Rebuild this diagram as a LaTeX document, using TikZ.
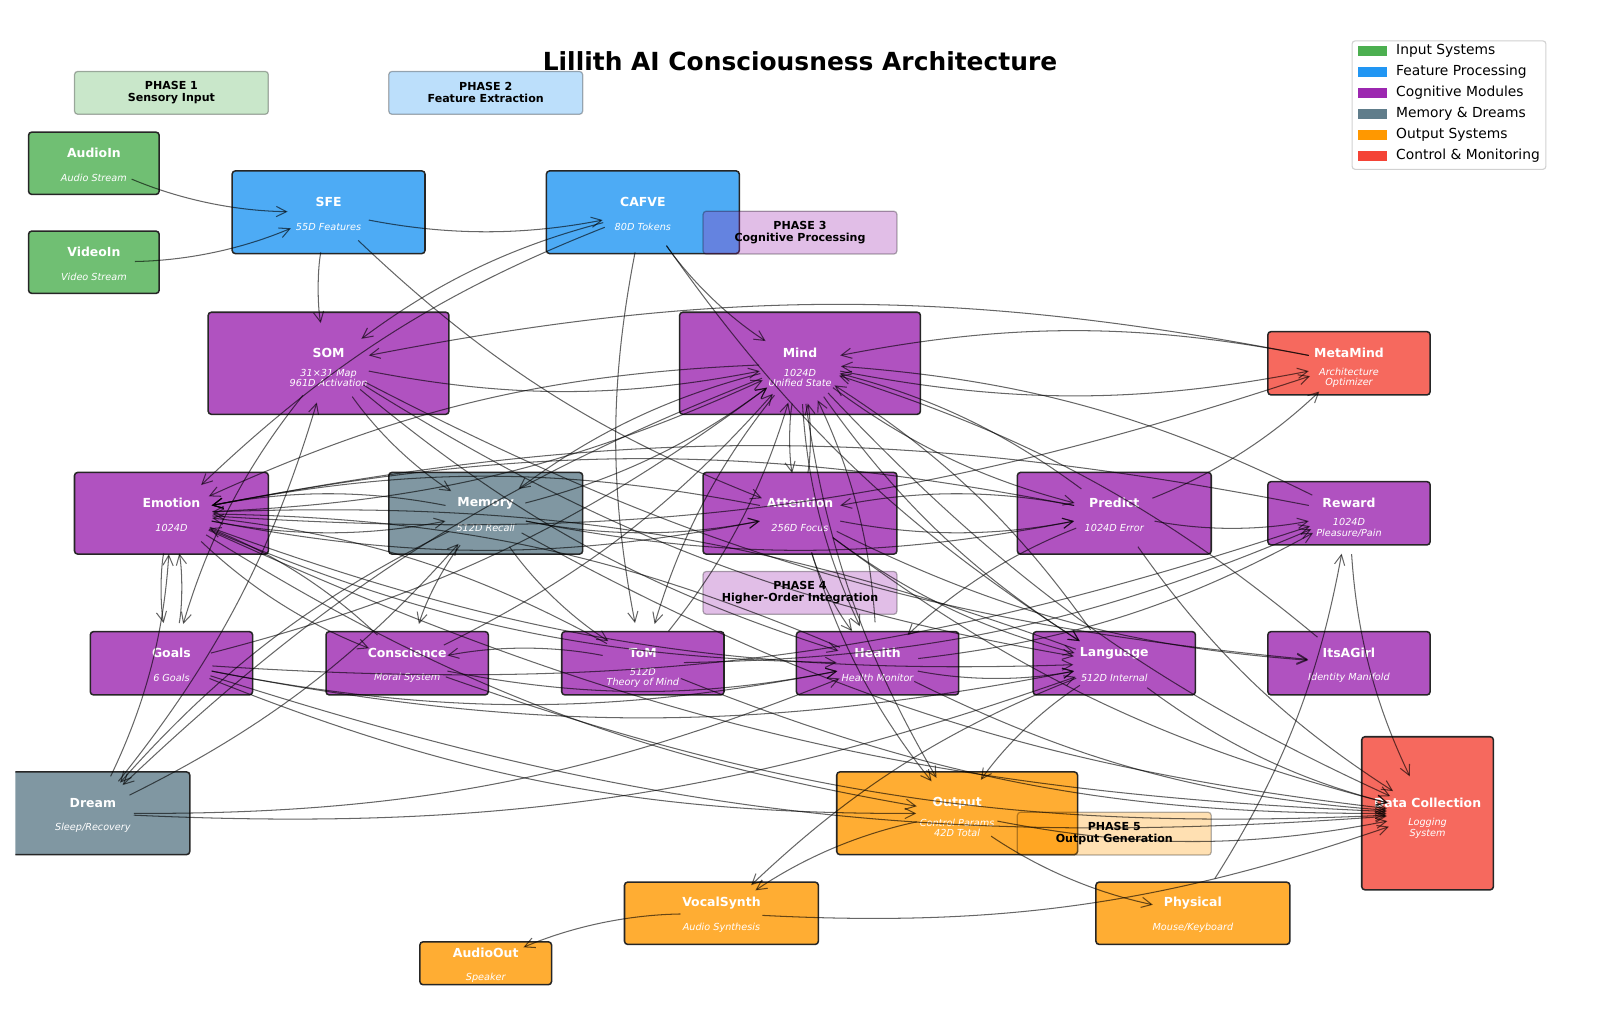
\documentclass[tikz,border=0pt]{standalone}
\usepackage{fontspec}
\setmainfont{DejaVu Sans}
\usepackage{xcolor}
\usetikzlibrary{positioning,arrows.meta}

\definecolor{cIn}{HTML}{4CAF50}
\definecolor{cFeat}{HTML}{2196F3}
\definecolor{cCog}{HTML}{9C27B0}
\definecolor{cMem}{HTML}{607D8B}
\definecolor{cOut}{HTML}{FF9800}
\definecolor{cCtl}{HTML}{F44336}

\def\un{0.2592mm}

\tikzset{
  box/.style={draw=black!85, line width=1.1pt, rounded corners=0.8mm, inner sep=0pt},
  ttl/.style={text=white, font=\fontsize{9}{10}\selectfont\bfseries, inner sep=0pt},
  sub/.style={text=white, font=\fontsize{7}{7.6}\selectfont\itshape, align=center, inner sep=0pt},
  phase/.style={draw=black, fill opacity=0.3, draw opacity=0.3, text opacity=1,
    rounded corners=0.8mm, line width=0.9pt, minimum width=190*\un, minimum height=42*\un,
    align=center, font=\fontsize{8}{8.6}\selectfont\bfseries, inner sep=0pt},
  edge/.style={-{Straight Barb[length=2.6mm,width=2.6mm]}, line width=0.75pt,
    draw=black, draw opacity=0.6, shorten <=10.4mm, shorten >=10.4mm},
}

% name, x, y, width, height, colour, title, subtitle
\newcommand{\modbox}[8]{%
  \node[box, fill=#6!80, minimum width=#4*\un, minimum height=#5*\un] (#1) at (#2,-#3) {};
  \node[ttl] (#1-t) at (#2,-#3+10) {#7};
  \node[sub] (#1-s) at (#2,-#3-14.5) {#8};
}

\begin{document}
\begin{tikzpicture}[x=0.2592mm, y=0.2592mm]
\useasboundingbox (0,0) rectangle (1568,-1006);
\clip (15,0) rectangle (1568,-1006);

\node[font=\fontsize{18}{21}\selectfont\bfseries] (title) at (784,-60) {Lillith AI Consciousness Architecture};

% modules
\modbox{AudioIn}{92}{160}{128}{61}{cIn}{AudioIn}{Audio Stream}
\modbox{VideoIn}{92}{257}{128}{61}{cIn}{VideoIn}{Video Stream}
\modbox{SFE}{322}{208}{189}{81}{cFeat}{SFE}{55D Features}
\modbox{CAFVE}{630}{208}{189}{81}{cFeat}{CAFVE}{80D Tokens}
\modbox{SOM}{322}{356}{236}{100}{cCog}{SOM}{31×31 Map\\961D Activation}
\modbox{Mind}{784}{356}{236}{100}{cCog}{Mind}{1024D\\Unified State}
\modbox{MetaMind}{1322}{356}{159}{62}{cCtl}{MetaMind}{Architecture\\Optimizer}
\modbox{Emotion}{168}{503}{190}{80}{cCog}{Emotion}{1024D}
\modbox{Memory}{476}{503}{190}{80}{cMem}{Memory}{512D Recall}
\modbox{Attention}{784}{503}{190}{80}{cCog}{Attention}{256D Focus}
\modbox{Predict}{1092}{503}{190}{80}{cCog}{Predict}{1024D Error}
\modbox{Reward}{1322}{503}{159}{62}{cCog}{Reward}{1024D\\Pleasure/Pain}
\modbox{Goals}{168}{650}{159}{62}{cCog}{Goals}{6 Goals}
\modbox{Conscience}{399}{650}{159}{62}{cCog}{Conscience}{Moral System}
\modbox{ToM}{630}{650}{159}{62}{cCog}{ToM}{512D\\Theory of Mind}
\modbox{Health}{860}{650}{159}{62}{cCog}{Health}{Health Monitor}
\modbox{Language}{1092}{650}{159}{62}{cCog}{Language}{512D Internal}
\modbox{ItsAGirl}{1322}{650}{159}{62}{cCog}{ItsAGirl}{Identity Manifold}
\modbox{Dream}{91}{797}{190}{81}{cMem}{Dream}{Sleep/Recovery}
\modbox{Output}{938}{797}{236}{81}{cOut}{Output}{Control Params\\42D Total}
\modbox{DataCol}{1399}{797}{129}{150}{cCtl}{Data Collection}{Logging\\System}
\modbox{VocalSynth}{707}{895}{190}{61}{cOut}{VocalSynth}{Audio Synthesis}
\modbox{Physical}{1169}{895}{190}{61}{cOut}{Physical}{Mouse/Keyboard}
\modbox{AudioOut}{476}{944}{129}{42}{cOut}{AudioOut}{Speaker}

% phase labels
\node[phase, fill=cIn] (ph1) at (168,-91) {PHASE 1\\Sensory Input};
\node[phase, fill=cFeat] (ph2) at (476,-91) {PHASE 2\\Feature Extraction};
\node[phase, fill=cCog] (ph3) at (784,-228) {PHASE 3\\Cognitive Processing};
\node[phase, fill=cCog] (ph4) at (784,-581) {PHASE 4\\Higher-Order Integration};
\node[phase, fill=cOut] (ph5) at (1092,-817) {PHASE 5\\Output Generation};

% connections
\foreach \a/\b in {AudioIn/SFE, VideoIn/SFE, SFE/CAFVE, SFE/SOM, SFE/Attention,
  CAFVE/SOM, CAFVE/Emotion, CAFVE/Mind, CAFVE/ToM, CAFVE/Language,
  SOM/Mind, SOM/Memory, SOM/Goals, SOM/Health, SOM/Language, SOM/ItsAGirl,
  MetaMind/SOM, MetaMind/Mind, Mind/MetaMind, Emotion/MetaMind,
  Dream/SOM, Dream/Emotion, Dream/Memory, Dream/Health, Dream/Language,
  Emotion/Goals, Goals/Emotion, Goals/Mind, Goals/Reward, Goals/Health, Goals/Language, Goals/Output, Goals/DataCol,
  Emotion/Mind, Mind/Emotion, Memory/Mind, Mind/Memory, Mind/Attention, Attention/Mind,
  Mind/Predict, Predict/Mind, Mind/Language, Language/Mind, Health/Mind, ToM/Mind, Mind/ToM,
  Conscience/Mind, Reward/Mind, ItsAGirl/Mind, Mind/Output, Mind/Dream, Mind/DataCol, Mind/Health,
  Memory/Conscience, Memory/ToM, Memory/Dream, Memory/Emotion, Memory/Attention, Memory/Predict, Memory/DataCol,
  Emotion/Memory, Emotion/Attention, Emotion/Conscience, Emotion/Health, Emotion/Language,
  Emotion/Output, Emotion/DataCol,
  Attention/Emotion, Attention/Predict, Predict/Attention, Attention/Health, Attention/Output,
  Attention/Language, Attention/ItsAGirl, Attention/DataCol,
  Predict/Emotion, Predict/Reward, Predict/MetaMind, Predict/Health, Predict/DataCol,
  Reward/Emotion, Reward/DataCol,
  Conscience/Emotion, Conscience/Health, Conscience/DataCol,
  ToM/Conscience, ToM/Emotion, ToM/Reward, ToM/DataCol,
  Health/Emotion, Health/Reward, Health/Language, Health/DataCol,
  Language/Emotion, Language/Output, Language/VocalSynth, Language/DataCol,
  Output/VocalSynth, Output/Physical, Output/DataCol,
  VocalSynth/AudioOut, VocalSynth/DataCol, Physical/Reward}{
  \draw[edge] (\a.center) to[bend right=11] (\b.center);
}

% legend
\node[draw=black!18, line width=0.8pt, fill=white, rounded corners=0.8mm,
  minimum width=190*\un, minimum height=126*\un, inner sep=0pt] (legend) at (1420,-103) {};
\foreach \i/\c/\t in {0/cIn/Input Systems, 1/cFeat/Feature Processing, 2/cCog/Cognitive Modules,
  3/cMem/Memory \& Dreams, 4/cOut/Output Systems, 5/cCtl/Control \& Monitoring}{
  \fill[\c] (1331,-45-\i*20.6) rectangle (1359,-55-\i*20.6);
  \node[anchor=west, font=\fontsize{10}{12}\selectfont, inner sep=0pt] (leg\i) at (1368,-50-\i*20.6) {\t};
}
\end{tikzpicture}
\end{document}
